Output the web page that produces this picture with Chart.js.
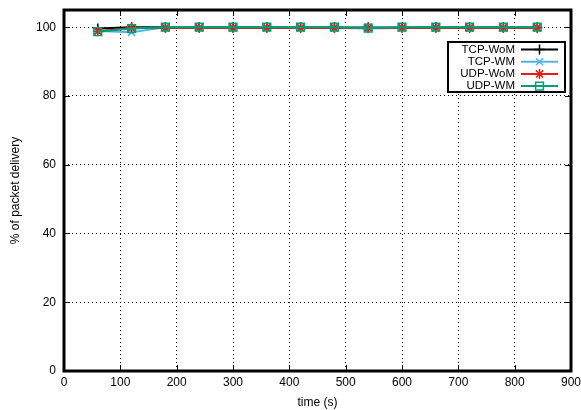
<!DOCTYPE html>
<html>
<head>
<meta charset="utf-8">
<script src="https://cdn.jsdelivr.net/npm/chart.js@4.4.1/dist/chart.umd.min.js"></script>
<style>
  html, body { margin: 0; padding: 0; background: #fff; }
  #wrap { width: 581px; height: 410px; }
</style>
</head>
<body>
<div id="wrap"><canvas id="myChart" width="581" height="410"></canvas></div>
<script>
// sample times (s) and delivery ratios (%)
const times = [60, 120, 180, 240, 300, 360, 420, 480, 540, 600, 660, 720, 780, 840];
const tcpWoM = [99.6, 100, 100, 100, 100, 100, 100, 100, 100, 100, 100, 100, 100, 100];
const tcpWM = [98.9, 98.5, 100, 100, 100, 100, 100, 100, 100, 100, 100, 100, 100, 100];
const udpWoM = [98.8, 99.8, 99.8, 99.8, 99.8, 99.8, 99.8, 99.8, 99.7, 99.8, 99.8, 99.8, 99.8, 99.8];
const udpWM = [98.7, 99.6, 100, 100, 100, 100, 100, 100, 99.7, 100, 100, 100, 100, 100];
const xTicks = [0, 100, 200, 300, 400, 500, 600, 700, 800, 900];
const yTicks = [0, 20, 40, 60, 80, 100];

const FONT = 'Liberation Sans, Arial, sans-serif';

function series(label, values, color, style, radius, order) {
    return {
        label: label,
        data: times.map((t, i) => ({ x: t, y: values[i] })),
        borderColor: color,
        backgroundColor: 'rgba(0,0,0,0)',
        borderWidth: 2,
        pointStyle: style,
        pointRadius: radius,
        pointBorderWidth: 1.5,
        pointBorderColor: color,
        pointBackgroundColor: 'rgba(0,0,0,0)',
        fill: false,
        tension: 0,
        order: order
    };
}

const datasets = [
    series('TCP-WoM', tcpWoM, '#000000', 'cross', 5, 4),
    series('TCP-WM', tcpWM, '#56b4e9', 'crossRot', 5, 3),
    series('UDP-WoM', udpWoM, '#e51e10', 'star', 5, 2),
    series('UDP-WM', udpWM, '#009e73', 'rect', 5.5, 1)
];

// frame, inward ticks and the boxed key in the top right corner
const framePlugin = {
    id: 'frame',
    afterDatasetsDraw(chart) {
        const ctx = chart.ctx;
        const a = chart.chartArea;
        const xs = chart.scales.x, ys = chart.scales.y;
        ctx.save();
        ctx.strokeStyle = '#000';
        ctx.lineWidth = 1;
        ctx.beginPath();
        xTicks.forEach(v => {
            const px = Math.round(xs.getPixelForValue(v)) + 0.5;
            ctx.moveTo(px, a.bottom); ctx.lineTo(px, a.bottom - 6);
            ctx.moveTo(px, a.top); ctx.lineTo(px, a.top + 6);
        });
        yTicks.forEach(v => {
            const py = Math.round(ys.getPixelForValue(v)) + 0.5;
            ctx.moveTo(a.left, py); ctx.lineTo(a.left + 6, py);
            ctx.moveTo(a.right, py); ctx.lineTo(a.right - 6, py);
        });
        ctx.stroke();

        ctx.lineWidth = 3;
        ctx.strokeRect(a.left, a.top, a.right - a.left, a.bottom - a.top);

        // key
        const bx = 448, by = 42, bw = 117, bh = 50;
        ctx.fillStyle = '#fff';
        ctx.fillRect(bx, by, bw, bh);
        ctx.lineWidth = 2;
        ctx.strokeRect(bx, by, bw, bh);
        ctx.font = '11.5px ' + FONT;
        ctx.textAlign = 'right';
        ctx.textBaseline = 'middle';
        chart.data.datasets.forEach((ds, i) => {
            const cy = by + 7.5 + i * 12.2;
            ctx.fillStyle = '#000';
            ctx.fillText(ds.label, 515, cy);
            ctx.strokeStyle = ds.borderColor;
            ctx.lineWidth = 2;
            ctx.beginPath();
            ctx.moveTo(521, cy); ctx.lineTo(558, cy);
            ctx.stroke();
            ctx.lineWidth = 1.5;
            ctx.fillStyle = 'rgba(0,0,0,0)';
            Chart.helpers.drawPoint(ctx, {
                pointStyle: ds.pointStyle, rotation: 0,
                radius: ds.pointRadius, borderWidth: 1.5
            }, 539.5, cy);
        });
        ctx.restore();
    }
};

const ctx = document.getElementById('myChart').getContext('2d');
const myChart = new Chart(ctx, {
    type: 'line',
    data: { datasets: datasets },
    options: {
        responsive: false,
        animation: false,
        layout: { padding: { top: 10, right: 10, left: 0, bottom: 0 } },
        plugins: { legend: { display: false }, tooltip: { enabled: false } },
        scales: {
            x: {
                type: 'linear',
                min: 0, max: 900,
                afterFit(scale) {
                    scale.height = 39;
                    scale.paddingLeft = 0;
                    scale.paddingRight = 0;
                },
                ticks: {
                    stepSize: 100, color: '#000', padding: 4,
                    font: { family: FONT, size: 12 },
                    maxRotation: 0
                },
                grid: { color: '#000', lineWidth: 1, drawTicks: false },
                border: { display: false, dash: [1, 3] },
                title: {
                    display: true, text: 'time (s)', color: '#000',
                    font: { family: FONT, size: 12 },
                    padding: { top: 1, bottom: 0 }
                }
            },
            y: {
                min: 0, max: 105,
                afterFit(scale) {
                    scale.width = 64;
                    scale.paddingTop = 0;
                    scale.paddingBottom = 0;
                },
                ticks: {
                    stepSize: 20, includeBounds: false, color: '#000', padding: 8,
                    font: { family: FONT, size: 12 }
                },
                grid: { color: '#000', lineWidth: 1, drawTicks: false },
                border: { display: false, dash: [1, 3] },
                title: {
                    display: true, text: '% of packet delivery', color: '#000',
                    font: { family: FONT, size: 12 },
                    padding: { top: 8, bottom: 0 }
                }
            }
        }
    },
    plugins: [framePlugin]
});
</script>
</body>
</html>
